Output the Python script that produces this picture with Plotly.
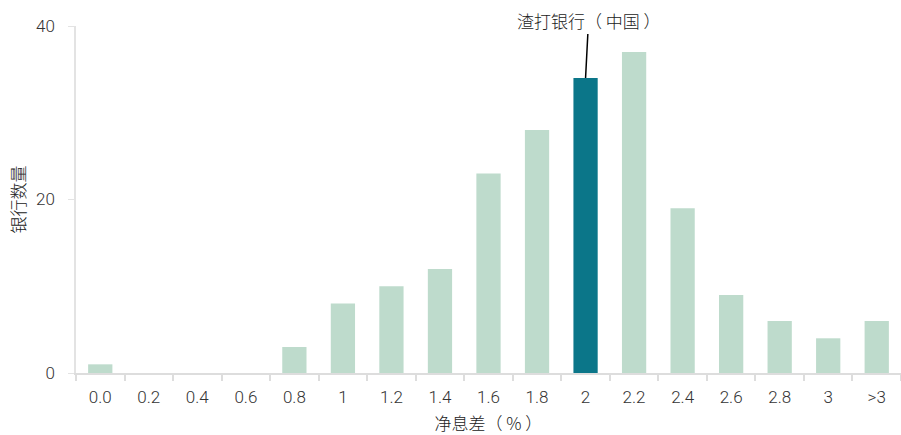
import plotly.graph_objects as go

categories = ["0.0", "0.2", "0.4", "0.6", "0.8", "1", "1.2", "1.4", "1.6", "1.8",
              "2", "2.2", "2.4", "2.6", "2.8", "3", ">3"]
counts = [1, 0, 0, 0, 3, 8, 10, 12, 23, 28, 34, 37, 19, 9, 6, 4, 6]
highlight = "2"
highlight_label = "渣打银行（ 中国 ）"
y_ticks = [0, 20, 40]

light = "#BEDBCC"
dark = "#0B7689"
colors = [dark if c == highlight else light for c in categories]

num_font = dict(family="Roboto, 'Noto Sans', sans-serif", size=17, color="#333333", weight=300)
cjk_font = dict(family="'Noto Sans CJK SC', sans-serif", size=17, color="#222222", weight=300)

hi_idx = categories.index(highlight)

fig = go.Figure()
fig.add_trace(go.Bar(x=categories, y=counts, marker=dict(color=colors, line=dict(width=0)),
                     hoverinfo="skip"))

fig.update_layout(
    width=901, height=435,
    margin=dict(l=76, r=0, t=26, b=62),
    paper_bgcolor="white", plot_bgcolor="white",
    bargap=0.5, showlegend=False,
    xaxis=dict(type="category", tickfont=num_font, showline=True, linecolor="#DDDDDD",
               linewidth=2, ticks="outside", tickson="boundaries", ticklen=6,
               tickcolor="#DDDDDD", tickwidth=1.5, showgrid=False, ticklabelstandoff=8,
               automargin=False,
               title=dict(text="净息差（ % ）", font=cjk_font, standoff=22)),
    yaxis=dict(range=[0, 40], tickvals=y_ticks, tickfont=num_font, showline=True,
               linecolor="#E3E3E3", linewidth=1.5, ticks="outside", ticklen=6,
               tickcolor="#E3E3E3", showgrid=False, zeroline=False, ticklabelstandoff=10,
               title=dict(text="银行数量", font=cjk_font, standoff=6)),
    annotations=[dict(x=hi_idx, y=counts[hi_idx], xref="x", yref="y",
                      text=highlight_label, showarrow=True, arrowhead=0, arrowwidth=1.5,
                      arrowcolor="black", ax=3, ay=-58, font=cjk_font)],
)

fig.write_html("out.html")
